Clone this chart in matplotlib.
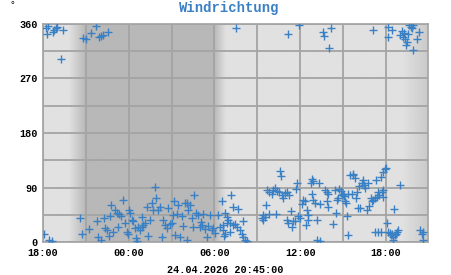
import datetime as dt

import matplotlib
matplotlib.use("Agg")
from matplotlib import pyplot as plt
import matplotlib.dates as mdates
import numpy as np

# Messwerte: Stunden seit 23.04.2026 18:00 und Windrichtung in Grad
hours = [
    0.07, 0.44, 0.61, 2.59, 2.71, 3.24, 3.76, 3.87, 4.04, 4.27, 4.34, 4.50,
    4.69, 4.76, 4.92, 5.04, 5.16, 5.27, 5.34, 5.44, 5.62, 5.74, 5.86, 5.97,
    6.04, 6.09, 6.21, 6.32, 6.44, 6.51, 6.60, 6.67, 6.79, 6.91, 7.02, 7.14,
    7.26, 7.37, 7.49, 7.61, 7.72, 7.84, 7.91, 8.07, 8.19, 8.31, 8.42, 8.54,
    8.66, 8.77, 8.89, 9.01, 9.17, 9.24, 9.36, 9.47, 9.59, 9.71, 9.82, 9.94,
    10.06, 10.18, 10.29, 10.41, 10.53, 10.60, 10.71, 10.88, 10.99, 11.11,
    11.23, 11.34, 11.46, 11.58, 11.69, 11.81, 11.93, 12.04, 12.28, 12.39,
    12.51, 12.63, 12.75, 12.86, 4.60, 6.95, 9.07, 10.11, 11.04,
    13.17, 13.28, 13.68, 12.75, 12.86, 12.98, 13.10, 13.33, 13.45, 13.56,
    13.80, 13.91, 14.03, 14.15, 14.26, 12.63, 12.68, 13.10, 14.03,
    15.43, 15.31, 15.43, 15.55, 15.62, 15.67, 15.85, 16.01, 16.13, 16.25,
    16.36, 16.55, 16.71, 16.83, 16.95, 17.06, 17.25, 15.85, 16.32, 16.60,
    16.67, 17.06, 17.18, 17.35, 17.42, 17.53, 17.65, 17.72, 17.77, 17.88,
    18.00, 18.12, 18.23, 18.35, 18.42, 18.51, 18.58, 18.54, 18.75, 18.82,
    18.89, 18.82, 18.93, 19.05, 19.17, 19.21, 19.40, 19.35, 19.40, 19.75,
    19.87, 19.98, 19.91, 19.98, 20.33, 20.45, 20.52, 20.61, 20.68, 20.75,
    20.85, 20.92, 20.99, 21.08, 21.15, 21.22, 21.27, 21.34, 21.38, 21.50,
    21.62, 21.69, 21.73, 21.85, 21.92, 21.97, 22.08, 22.15, 22.20, 22.32,
    22.43, 22.48, 22.55, 22.67, 22.78, 22.85, 22.95, 23.02, 23.13, 23.25,
    23.32, 23.37, 23.48, 23.55, 23.65, 23.72, 23.79, 23.83, 23.95, 24.02,
    23.83, 24.07, 24.18, 24.30, 24.35, 24.42, 24.53, 24.65, 24.72, 24.77,
    24.88, 25.00, 24.58, 24.53, 23.25, 23.48, 23.65, 26.40, 26.52, 26.63,
    26.59,
    0.21, 0.26, 0.37, 0.68, 0.77, 0.91, 0.96, 1.38, 1.24, 2.82, 3.01, 3.34,
    3.71, 3.92, 4.06, 4.20, 4.57,
    13.52, 17.18, 17.93, 19.59, 19.68, 20.17, 20.05, 23.09, 24.18, 24.42,
    24.18, 25.00, 25.12, 25.19, 25.28, 25.35, 25.47, 25.40, 25.58, 25.65,
    25.75, 25.82, 25.89, 26.35, 26.17, 25.89,
]
direction = [
    14, 4, 1, 39, 13, 21, 34, 8, 3, 39, 23, 20,
    43, 61, 17, 53, 48, 24, 47, 43, 70, 32, 17, 14,
    53, 48, 36, 34, 23, 6, 1, 25, 20, 25, 28, 31,
    58, 10, 37, 65, 53, 91, 72, 53, 57, 9, 37, 28,
    23, 56, 30, 32, 67, 12, 47, 61, 9, 43, 26, 64,
    65, 53, 61, 39, 25, 78, 48, 45, 25, 28,
    47, 21, 8, 26, 45, 20, 23, 15, 45, 25,
    67, 28, 14, 32, 10, 41, 44, 4, 33,
    78, 57, 54, 48, 42, 36, 31, 28, 29, 25,
    20, 14, 9, 4, 1, 20, 10, 17, 35,
    45, 39, 36, 41, 61, 86, 83, 80, 86, 89,
    84, 83, 78, 72, 81, 83, 78, 46, 47, 118,
    109, 37, 31, 52, 25, 35, 34, 87, 98, 43,
    39, 63, 69, 67, 28, 53, 45, 36, 98, 104,
    100, 80, 69, 65, 36, 4, 1, 97, 63, 86,
    83, 79, 67, 57, 30, 86, 48, 70, 73, 87,
    84, 78, 80, 76, 67, 64, 43, 12, 80, 111,
    80, 113, 111, 105, 72, 83, 56, 92, 56, 98,
    102, 94, 89, 53, 97, 59, 72, 67, 69, 72,
    102, 75, 83, 78, 108, 83, 86, 116, 120, 123,
    75, 31, 17, 15, 12, 13, 9, 12, 14, 17,
    20, 94, 54, 3, 17, 17, 17, 20, 14, 17,
    4,
    353, 343, 357, 347, 350, 353, 355, 350, 303, 337, 335, 345,
    357, 338, 340, 342, 347,
    353, 343, 358, 346, 340, 354, 320, 350, 355, 350,
    339, 342, 349, 339, 345, 335, 331, 325, 343, 358,
    355, 353, 358, 347, 335, 317,
]

# Hell/Dunkel-Verlauf (Stunden seit Start, Helligkeit)
light_hours = [0.0, 1.8, 3.0, 12.0, 12.8, 25.2, 27.0]
light_level = [0.88, 0.88, 0.72, 0.72, 0.88, 0.88, 0.79]

y_ticks = [0, 90, 180, 270, 360]
stamp = "24.04.2026 20:45:00"

start = dt.datetime(2026, 4, 23, 18, 0)
end = start + dt.timedelta(hours=26.95)
times = [start + dt.timedelta(hours=h) for h in hours]

blue = "#3a80c4"
mono = "Liberation Mono"

fig = plt.figure(figsize=(4.51, 2.75), dpi=100)
ax = fig.add_axes([43 / 451, 33 / 275, 385 / 451, 218 / 275])

# background shading
hx = np.linspace(0, 26.95, 600)
shade = np.interp(hx, light_hours, light_level)
img = np.tile(shade, (2, 1))
ax.imshow(img, cmap="gray", vmin=0, vmax=1, aspect="auto",
          extent=[mdates.date2num(start), mdates.date2num(end), 0, 360],
          interpolation="bilinear", zorder=0)

ax.plot(times, direction, "+", color=blue, markersize=6, mew=1.0, zorder=3)

ax.set_xlim(start, end)
ax.set_ylim(0, 360)
ax.set_yticks(y_ticks)
ax.set_yticks(np.arange(45, 360, 90), minor=True)
ax.xaxis.set_major_locator(mdates.HourLocator(byhour=[0, 6, 12, 18]))
ax.xaxis.set_minor_locator(mdates.HourLocator(byhour=[3, 9, 15, 21]))
ax.xaxis.set_major_formatter(mdates.DateFormatter("%H:%M"))

ax.grid(True, which="both", color="#a4a4a4", linewidth=1.3, zorder=1)
ax.set_axisbelow(False)
for line in ax.get_xgridlines() + ax.get_ygridlines():
    line.set_zorder(1)
ax.tick_params(which="both", length=0)
ax.tick_params(axis="x", pad=4)
ax.tick_params(axis="y", pad=4)
for lbl in ax.get_xticklabels() + ax.get_yticklabels():
    lbl.set_fontfamily(mono)
    lbl.set_fontweight("bold")
    lbl.set_fontsize(7.3)
for s in ax.spines.values():
    s.set_color("#a8a8a8")
    s.set_linewidth(1.3)

fig.text(229 / 451, 1 - 8 / 275, "Windrichtung", ha="center", va="center",
         color=blue, fontfamily=mono, fontweight="bold", fontsize=10)
fig.text(225 / 451, 1 - 270 / 275, stamp, ha="center", va="center",
         fontfamily=mono, fontweight="bold", fontsize=7.3)
fig.text(12.5 / 451, 1 - 5 / 275, "°", ha="center", va="center",
         fontfamily=mono, fontsize=7)

fig.savefig("out.png", dpi=100)
